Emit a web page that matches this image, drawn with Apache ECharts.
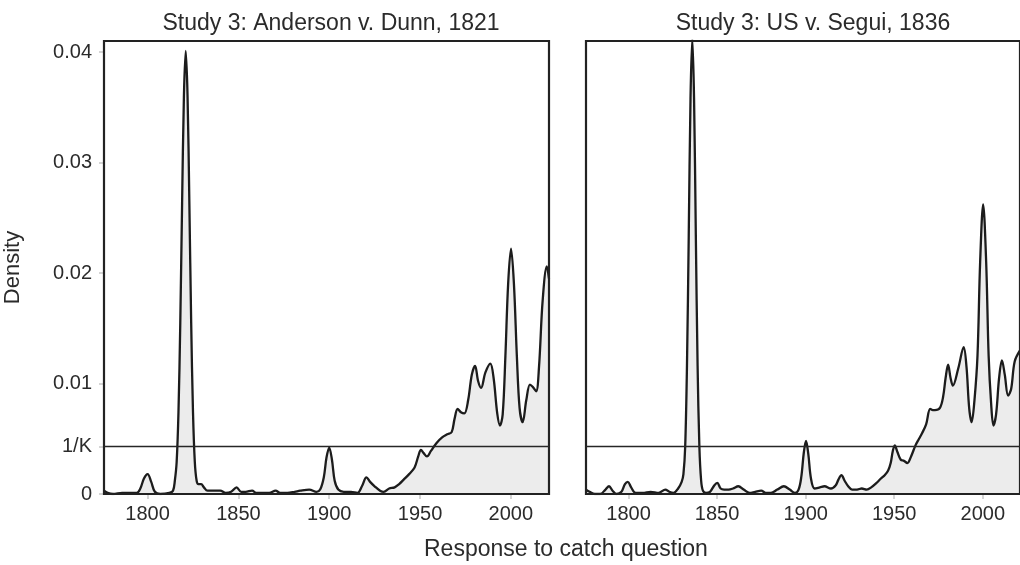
<!DOCTYPE html>
<html>
<head>
<meta charset="utf-8">
<script src="https://cdn.jsdelivr.net/npm/echarts@6/dist/echarts.min.js"></script>
<style>
  html, body { margin: 0; padding: 0; background: #fff; }
  #chart { width: 1020px; height: 565px; }
</style>
</head>
<body>
<div id="chart"></div>
<script>
// year, density pairs
var andersonDunn = [
  [1776,0.0003],[1778,0.0001],[1781,0.0],[1786,0.0001],[1790,0.0001],[1794,0.0001],
  [1796,0.0005],[1798,0.0014],[1800,0.0018],[1802,0.0011],[1804,0.0002],[1807,0.0],
  [1812,0.0001],[1814,0.0003],[1815,0.0012],[1816,0.0029],[1817,0.0074],[1818,0.0155],
  [1819,0.0263],[1820,0.036],[1821,0.0401],[1822,0.036],[1823,0.0263],[1824,0.0155],
  [1825,0.0074],[1826,0.0029],[1827,0.0012],[1828,0.0009],[1829.5,0.0009],[1831,0.0006],
  [1833,0.0003],[1836,0.0003],[1840,0.0003],[1843,0.0001],[1846,0.0002],[1849,0.0006],
  [1851.5,0.0002],[1854,0.0002],[1857.5,0.0003],[1860,0.0001],[1864,0.0001],[1867,0.0001],
  [1870.5,0.0003],[1873,0.0001],[1877,0.0001],[1881,0.0002],[1884,0.0003],[1889,0.0004],
  [1893,0.0002],[1895,0.0004],[1897,0.0015],[1898.5,0.0033],[1900,0.0042],[1901.5,0.0031],
  [1903,0.0012],[1905,0.0004],[1908,0.0002],[1912,0.0002],[1915.5,0.0001],[1918,0.0007],
  [1920.5,0.0015],[1922.5,0.0011],[1925,0.0007],[1928,0.0003],[1930,0.0002],[1933,0.0005],
  [1936,0.0006],[1938.5,0.0009],[1941,0.0013],[1944,0.0018],[1947,0.0024],[1949,0.0034],
  [1950.5,0.004],[1952,0.0037],[1953.8,0.0034],[1956,0.0039],[1959,0.0046],[1962,0.0051],
  [1965,0.0054],[1967.4,0.0056],[1969,0.0068],[1970.7,0.0077],[1972.5,0.0074],[1974.4,0.0073],
  [1976.5,0.0085],[1978.5,0.0108],[1980.3,0.0116],[1982,0.0102],[1983.6,0.0096],[1986,0.011],
  [1988.7,0.0118],[1990.5,0.0105],[1992.5,0.0073],[1994,0.0062],[1995.5,0.0072],[1997,0.0125],
  [1998.5,0.019],[2000.1,0.0222],[2001.7,0.019],[2003.3,0.0125],[2004.8,0.0078],[2006.5,0.0065],
  [2008.5,0.0085],[2010.5,0.0099],[2012,0.0097],[2013.9,0.0093],[2015.5,0.0115],[2017.5,0.0175],
  [2019.8,0.0206],[2021,0.0195]
];

var usSegui = [
  [1776,0.0004],[1778,0.0002],[1781,0.0],[1784,0.0],[1787,0.0004],[1789,0.0007],[1791,0.0003],
  [1793.3,0.0],[1796,0.0002],[1798,0.0009],[1799.6,0.0011],[1801.5,0.0006],[1804,0.0001],
  [1808,0.0001],[1812.5,0.0002],[1817,0.0001],[1820.8,0.0004],[1823,0.0002],[1825.4,0.0001],
  [1828,0.0005],[1830,0.0011],[1831,0.0018],[1832,0.0043],[1833,0.0116],[1834,0.0234],
  [1835,0.0358],[1836,0.0412],[1837,0.0358],[1838,0.0234],[1839,0.0116],[1840,0.0043],
  [1841,0.0012],[1842,0.0003],[1843.7,0.0001],[1846,0.0002],[1848.5,0.0008],[1850.1,0.001],
  [1852,0.0005],[1854,0.0004],[1856.5,0.0004],[1859,0.0005],[1862,0.0007],[1865,0.0004],
  [1868.4,0.0001],[1871.5,0.0002],[1874.9,0.0003],[1877.5,0.0001],[1880.4,0.0001],[1884,0.0004],
  [1887.7,0.0007],[1891,0.0004],[1894,0.0001],[1896,0.0004],[1897.5,0.0015],[1899,0.0038],
  [1900.2,0.0048],[1901.5,0.0036],[1903,0.0014],[1905,0.0005],[1908,0.0006],[1910.6,0.0007],
  [1914.3,0.0005],[1917,0.0008],[1918.5,0.0013],[1920.2,0.0017],[1922,0.0012],[1924,0.0007],
  [1926.2,0.0004],[1929,0.0004],[1931.7,0.0005],[1934.5,0.0004],[1937,0.0006],[1940,0.001],
  [1942.5,0.0014],[1944.6,0.0017],[1946.5,0.0021],[1948,0.0028],[1949.2,0.0039],[1950.3,0.0044],
  [1951.8,0.0038],[1953.7,0.0031],[1955.5,0.003],[1957.4,0.0028],[1959.5,0.0034],[1962,0.0044],
  [1964,0.005],[1965.7,0.0055],[1968,0.0063],[1970.3,0.0077],[1971.8,0.0076],[1973,0.0076],
  [1975.8,0.0078],[1977.6,0.0088],[1979,0.0105],[1980.4,0.0117],[1981.8,0.0105],[1983.1,0.0098],
  [1986.2,0.0114],[1989.2,0.0133],[1990.8,0.0115],[1992.3,0.0078],[1993.7,0.0065],[1995.3,0.0085],
  [1997,0.0125],[1998.5,0.021],[2000.2,0.0262],[2001.9,0.021],[2003.3,0.0125],[2004.7,0.0082],
  [2006,0.0062],[2007.5,0.0072],[2009.2,0.0105],[2010.8,0.0121],[2012.4,0.0108],[2014.3,0.0089],
  [2016,0.0095],[2018,0.012],[2021,0.013]
];

var panelTitles = ['Study 3: Anderson v. Dunn, 1821', 'Study 3: US v. Segui, 1836'];
var xTicks = [1800, 1850, 1900, 1950, 2000];
var xMin = 1776, xMax = 2021;
var oneOverK = 0.0043;
var yTicks = [0, oneOverK, 0.01, 0.02, 0.03, 0.04];

var FONT = '"Liberation Sans", Arial, sans-serif';
var chart = echarts.init(document.getElementById('chart'));

function makeX(idx) {
  return {
    type: 'value', gridIndex: idx, min: xMin, max: xMax,
    axisLine: { show: false },
    splitLine: { show: false },
    axisTick: { show: true, customValues: xTicks, length: 5, lineStyle: { color: '#c8c8c8', width: 1.5 } },
    axisLabel: { customValues: xTicks, color: '#2b2b2b', fontSize: 20, fontFamily: FONT, margin: 10,
      formatter: function (v) { return String(v); } }
  };
}

function makeY(idx) {
  return {
    type: 'value', gridIndex: idx, min: 0, max: 0.041,
    axisLine: { show: false },
    splitLine: { show: false },
    name: idx === 0 ? 'Density' : '',
    nameLocation: 'middle', nameGap: 80, nameRotate: 90,
    nameTextStyle: { color: '#2b2b2b', fontSize: 22, fontFamily: FONT },
    axisTick: { show: idx === 0, customValues: yTicks, length: 5, lineStyle: { color: '#c8c8c8', width: 1.5 } },
    axisLabel: {
      show: idx === 0, customValues: yTicks, color: '#2b2b2b', fontSize: 20, fontFamily: FONT, margin: 12,
      formatter: function (v) {
        if (v === 0) return '0';
        if (Math.abs(v - oneOverK) < 1e-9) return '1/K';
        return String(v);
      }
    }
  };
}

function makeSeries(idx, data) {
  return {
    type: 'line', xAxisIndex: idx, yAxisIndex: idx,
    data: data, smooth: 0.35, showSymbol: false, clip: true,
    lineStyle: { color: '#1c1c1c', width: 2.3 },
    areaStyle: { color: '#ececec', opacity: 1, origin: 'start' },
    z: 2
  };
}

function makeKLine(idx) {
  return {
    type: 'line', xAxisIndex: idx, yAxisIndex: idx,
    data: [[xMin, oneOverK], [xMax, oneOverK]], showSymbol: false, silent: true,
    lineStyle: { color: '#262626', width: 1.6 },
    z: 3
  };
}

chart.setOption({
  animation: false,
  backgroundColor: '#fff',
  title: [
    { text: panelTitles[0], left: 326, top: 7, textAlign: 'center',
      textStyle: { color: '#2b2b2b', fontSize: 23, fontWeight: 'normal', fontFamily: FONT } },
    { text: panelTitles[1], left: 808, top: 7, textAlign: 'center',
      textStyle: { color: '#2b2b2b', fontSize: 23, fontWeight: 'normal', fontFamily: FONT } }
  ],
  grid: [
    { left: 104, top: 41, width: 445, height: 453, show: true, borderColor: '#222', borderWidth: 2.2, backgroundColor: 'transparent', z: 3 },
    { left: 586, top: 41, width: 445, height: 453, show: true, borderColor: '#222', borderWidth: 2.2, backgroundColor: 'transparent', z: 3 }
  ],
  xAxis: [makeX(0), makeX(1)],
  yAxis: [makeY(0), makeY(1)],
  series: [makeSeries(0, andersonDunn), makeSeries(1, usSegui), makeKLine(0), makeKLine(1)],
  graphic: [{
    type: 'text', left: 424, top: 538,
    style: { text: 'Response to catch question', fill: '#2b2b2b', font: '23px ' + FONT }
  }]
});
</script>
</body>
</html>
